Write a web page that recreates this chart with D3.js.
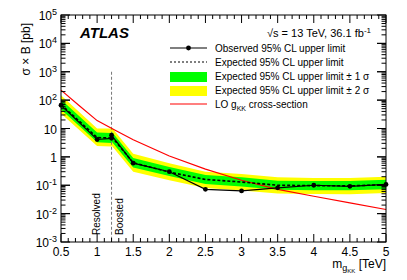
<!DOCTYPE html>
<head>
  <meta charset="utf-8">
  <script src="https://d3js.org/d3.v7.min.js"></script>
  <style>
    body { margin: 0; background: #fff; }
    text { font-family: "Liberation Sans", Arial, sans-serif; fill: #000; }
  </style>
</head>
<body>
<svg width="407" height="280"></svg>
<script>
// limits vs g_KK mass [TeV]; two points at 1.2 (resolved / boosted)
var masses   = [0.5, 1, 1.2, 1.2, 1.5, 2, 2.5, 3, 3.5, 4, 4.5, 5];
var observed = [66, 4.1, 4.5, 5.8, 0.6, 0.30, 0.072, 0.063, 0.081, 0.10, 0.092, 0.107];
var expected = [70, 4.8, 4.6, 5.2, 0.62, 0.29, 0.16, 0.13, 0.10, 0.097, 0.095, 0.105];
var exp2Up   = [150, 10, 10, 11, 1.3, 0.6, 0.3, 0.25, 0.19, 0.18, 0.18, 0.2];
var exp1Up   = [105, 7.2, 7, 7.8, 0.92, 0.44, 0.23, 0.19, 0.145, 0.14, 0.14, 0.155];
var exp1Dn   = [47, 3.3, 3.1, 3.5, 0.42, 0.21, 0.11, 0.09, 0.07, 0.067, 0.066, 0.073];
var exp2Dn   = [34, 2.4, 2.3, 2.5, 0.3, 0.15, 0.08, 0.065, 0.051, 0.049, 0.048, 0.053];

var xsecMass = [0.5, 0.75, 1, 1.25, 1.5, 2, 2.5, 3, 3.5, 4, 4.5, 5];
var xsecVal  = [225, 65, 19, 8.7, 4, 1.07, 0.37, 0.15, 0.072, 0.041, 0.024, 0.014];

var xTicks = [0.5, 1, 1.5, 2, 2.5, 3, 3.5, 4, 4.5, 5];
var yExps  = [-3, -2, -1, 0, 1, 2, 3, 4, 5];

var svg = d3.select("svg");
var L = 61, R = 386, T = 15, B = 242;

var x = d3.scaleLinear().domain([0.5, 5]).range([L, R]);
var y = d3.scaleLog().domain([1e-3, 1e5]).range([B, T]);

var rows = masses.map(function(m, i) {
  return {m: m, obs: observed[i], exp: expected[i], u2: exp2Up[i], u1: exp1Up[i], d1: exp1Dn[i], d2: exp2Dn[i]};
});

var plot = svg.append("g");

plot.append("path").datum(rows)
  .attr("fill", "#ffff00")
  .attr("d", d3.area().x(function(d) { return x(d.m); }).y0(function(d) { return y(d.d2); }).y1(function(d) { return y(d.u2); }));
plot.append("path").datum(rows)
  .attr("fill", "#00ff00")
  .attr("d", d3.area().x(function(d) { return x(d.m); }).y0(function(d) { return y(d.d1); }).y1(function(d) { return y(d.u1); }));

// resolved / boosted separator
plot.append("line")
  .attr("x1", x(1.2)).attr("x2", x(1.2))
  .attr("y1", y(1000)).attr("y2", B)
  .attr("stroke", "#777").attr("stroke-width", 1).attr("stroke-dasharray", "3,2");

plot.append("path").datum(xsecMass.map(function(m, i) { return [m, xsecVal[i]]; }))
  .attr("fill", "none").attr("stroke", "#ff0000").attr("stroke-width", 1.2)
  .attr("d", d3.line().x(function(d) { return x(d[0]); }).y(function(d) { return y(d[1]); }));

plot.append("path").datum(rows)
  .attr("fill", "none").attr("stroke", "#000").attr("stroke-width", 1.6).attr("stroke-dasharray", "3,2")
  .attr("d", d3.line().x(function(d) { return x(d.m); }).y(function(d) { return y(d.exp); }));

plot.append("path").datum(rows)
  .attr("fill", "none").attr("stroke", "#000").attr("stroke-width", 1.2)
  .attr("d", d3.line().x(function(d) { return x(d.m); }).y(function(d) { return y(d.obs); }));

plot.selectAll("circle.obs").data(rows).enter().append("circle")
  .attr("class", "obs")
  .attr("cx", function(d) { return x(d.m); })
  .attr("cy", function(d) { return y(d.obs); })
  .attr("r", 2.4).attr("fill", "#000");

// frame + inward ticks
var ax = svg.append("g").attr("stroke", "#000").attr("stroke-width", 1);
ax.append("rect").attr("x", L).attr("y", T).attr("width", R - L).attr("height", B - T).attr("fill", "none");

var xMinor = d3.range(5, 51).map(function(v) { return v / 10; });
xMinor.forEach(function(v) {
  var major = Math.abs(v * 2 - Math.round(v * 2)) < 1e-6;
  var len = major ? 8 : 4;
  ax.append("line").attr("x1", x(v)).attr("x2", x(v)).attr("y1", B).attr("y2", B - len);
  ax.append("line").attr("x1", x(v)).attr("x2", x(v)).attr("y1", T).attr("y2", T + len);
});

for (var e = -3; e <= 4; e++) {
  for (var k = 1; k <= 10; k++) {
    var v = k * Math.pow(10, e);
    var len = (k == 1 || k == 10) ? 9 : 4.5;
    ax.append("line").attr("x1", L).attr("x2", L + len).attr("y1", y(v)).attr("y2", y(v));
    ax.append("line").attr("x1", R).attr("x2", R - len).attr("y1", y(v)).attr("y2", y(v));
  }
}

// tick labels
svg.append("g").selectAll("text").data(xTicks).enter().append("text")
  .attr("x", function(d) { return x(d); })
  .attr("y", 256)
  .attr("text-anchor", "middle")
  .attr("font-size", 12)
  .text(function(d) { return d; });

var yl = svg.append("g").selectAll("text").data(yExps).enter().append("text")
  .attr("x", 57)
  .attr("y", function(d) { return y(Math.pow(10, d)) + 5; })
  .attr("text-anchor", "end")
  .attr("font-size", 12);
yl.each(function(d) {
  var t = d3.select(this);
  if (d == 0) { t.text("1"); return; }
  if (d == 1) { t.text("10"); return; }
  t.append("tspan").text("10");
  t.append("tspan").attr("dy", -5).attr("font-size", 9).text(d);
});

// axis titles
svg.append("text")
  .attr("transform", "translate(30,23) rotate(-90)")
  .attr("text-anchor", "end")
  .attr("font-size", 12)
  .text("σ × B [pb]");

var xt = svg.append("text").attr("x", R).attr("y", 268).attr("text-anchor", "end").attr("font-size", 12);
xt.append("tspan").text("m");
xt.append("tspan").attr("dy", 3).attr("font-size", 9).text("g");
xt.append("tspan").attr("dy", 2).attr("font-size", 6).text("KK");
xt.append("tspan").attr("dy", -5).text(" [TeV]");

svg.append("text")
  .attr("transform", "translate(100,235) rotate(-90)")
  .attr("font-size", 10)
  .text("Resolved");
svg.append("text")
  .attr("transform", "translate(123,235) rotate(-90)")
  .attr("font-size", 10)
  .text("Boosted");

// labels
svg.append("text")
  .attr("x", 80).attr("y", 38)
  .attr("font-size", 15).attr("font-weight", "bold").attr("font-style", "italic")
  .text("ATLAS");

var en = svg.append("text").attr("x", 371).attr("y", 37).attr("text-anchor", "end").attr("font-size", 11);
en.append("tspan").text("√s = 13 TeV, 36.1 fb");
en.append("tspan").attr("dy", -4).attr("font-size", 8).text("-1");

// legend
var lx0 = 170, lx1 = 207, tx = 215;
var lg = svg.append("g").attr("font-size", 10);
lg.append("line").attr("x1", lx0).attr("x2", lx1).attr("y1", 48).attr("y2", 48).attr("stroke", "#000").attr("stroke-width", 1.2);
lg.append("circle").attr("cx", (lx0 + lx1) / 2).attr("cy", 48).attr("r", 2.4).attr("fill", "#000");
lg.append("line").attr("x1", lx0).attr("x2", lx1).attr("y1", 62).attr("y2", 62).attr("stroke", "#000").attr("stroke-width", 1.2).attr("stroke-dasharray", "2,2");
lg.append("rect").attr("x", lx0).attr("y", 72).attr("width", lx1 - lx0).attr("height", 10).attr("fill", "#00ff00");
lg.append("rect").attr("x", lx0).attr("y", 86).attr("width", lx1 - lx0).attr("height", 10).attr("fill", "#ffff00");
lg.append("line").attr("x1", lx0).attr("x2", lx1).attr("y1", 104).attr("y2", 104).attr("stroke", "#ff0000").attr("stroke-width", 1.2);

var legText = ["Observed 95% CL upper limit", "Expected 95% CL upper limit",
  "Expected 95% CL upper limit ± 1 σ", "Expected 95% CL upper limit ± 2 σ"];
legText.forEach(function(s, i) {
  lg.append("text").attr("x", tx).attr("y", 52 + i * 14).text(s);
});
var lo = lg.append("text").attr("x", tx).attr("y", 108);
lo.append("tspan").text("LO g");
lo.append("tspan").attr("dy", 3).attr("font-size", 7).text("KK");
lo.append("tspan").attr("dy", -3).text(" cross-section");
</script>
</body>
